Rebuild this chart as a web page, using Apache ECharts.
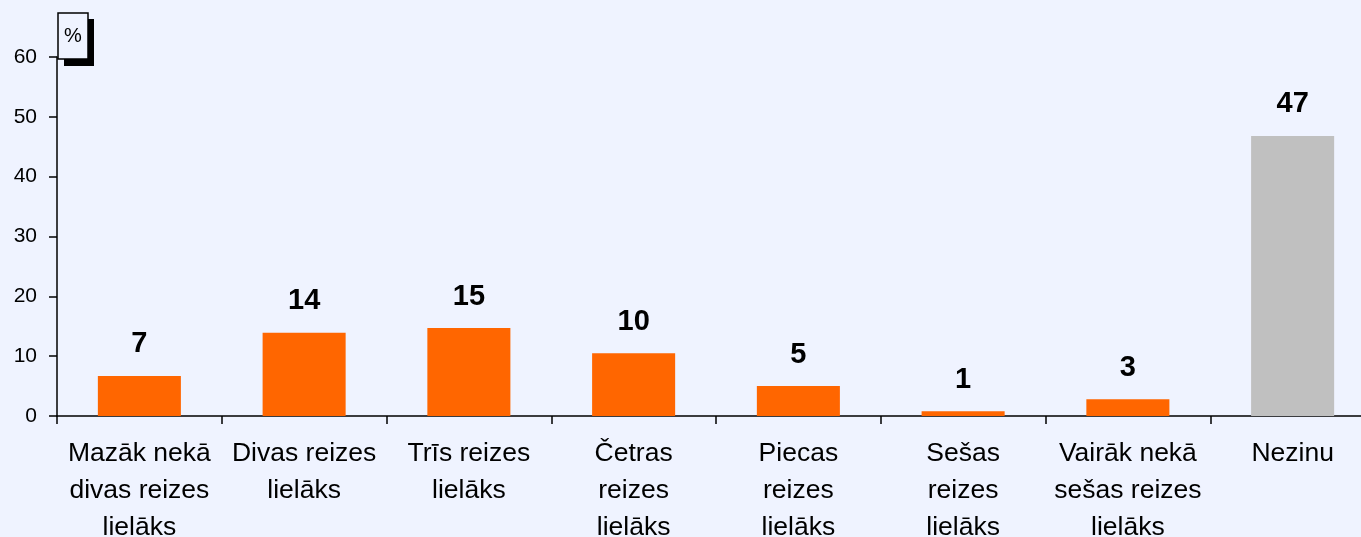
<!DOCTYPE html>
<html>
<head>
<meta charset="utf-8">
<script src="https://cdn.jsdelivr.net/npm/echarts@6/dist/echarts.min.js"></script>
<style>
  html, body { margin: 0; padding: 0; background: #eff3ff; }
  #chart { width: 1361px; height: 537px; }
</style>
</head>
<body>
<div id="chart"></div>
<script>
// kategorijas un vērtības (%)
var categories = [
  'Mazāk nekā\ndivas reizes\nlielāks',
  'Divas reizes\nlielāks',
  'Trīs reizes\nlielāks',
  'Četras\nreizes\nlielāks',
  'Piecas\nreizes\nlielāks',
  'Sešas\nreizes\nlielāks',
  'Vairāk nekā\nsešas reizes\nlielāks',
  'Nezinu'
];
var values = [6.7, 13.9, 14.7, 10.5, 5.0, 0.8, 2.8, 46.8];
var valueLabels = ['7', '14', '15', '10', '5', '1', '3', '47'];
var barColors = ['#ff6600', '#ff6600', '#ff6600', '#ff6600', '#ff6600', '#ff6600', '#ff6600', '#c0c0c0'];
var yTicks = [0, 10, 20, 30, 40, 50, 60];

var chart = echarts.init(document.getElementById('chart'));
var option = {
  backgroundColor: '#eff3ff',
  animation: false,
  textStyle: { fontFamily: 'Liberation Sans, Arial, sans-serif' },
  grid: { left: 57, top: 57, bottom: 121, right: -14, containLabel: false, outerBoundsMode: 'none' },
  xAxis: {
    type: 'category',
    data: categories,
    axisLine: { lineStyle: { color: '#000', width: 1.5 } },
    axisTick: { show: true, interval: 0, alignWithLabel: false, length: 8, lineStyle: { color: '#000', width: 1.5 } },
    axisLabel: {
      interval: 0,
      color: '#000',
      fontSize: 26.5,
      lineHeight: 37,
      margin: 19
    }
  },
  yAxis: {
    type: 'value',
    min: yTicks[0],
    max: yTicks[yTicks.length - 1],
    interval: 10,
    splitLine: { show: false },
    axisLine: { show: true, lineStyle: { color: '#000', width: 1.5 } },
    axisTick: { show: true, length: 8, lineStyle: { color: '#000', width: 1.5 } },
    axisLabel: { color: '#000', fontSize: 21, margin: 20 }
  },
  graphic: [
    { type: 'rect', shape: { x: 64, y: 19, width: 30, height: 47 }, style: { fill: '#000' } },
    { type: 'rect', shape: { x: 58, y: 13, width: 30, height: 46 }, style: { fill: '#eff3ff', stroke: '#000', lineWidth: 1.5 } },
    { type: 'text', x: 73, y: 36, style: { text: '%', fontSize: 20, fill: '#000', align: 'center', verticalAlign: 'middle', fontFamily: 'Liberation Sans, Arial, sans-serif' } }
  ],
  series: [{
    type: 'bar',
    barCategoryGap: '49.6%',
    data: values.map(function (v, i) {
      return { value: v, itemStyle: { color: barColors[i] } };
    }),
    label: {
      show: true,
      position: 'top',
      distance: 17,
      color: '#000',
      fontSize: 29,
      fontWeight: 'bold',
      formatter: function (p) { return valueLabels[p.dataIndex]; }
    }
  }]
};
chart.setOption(option);
</script>
</body>
</html>
